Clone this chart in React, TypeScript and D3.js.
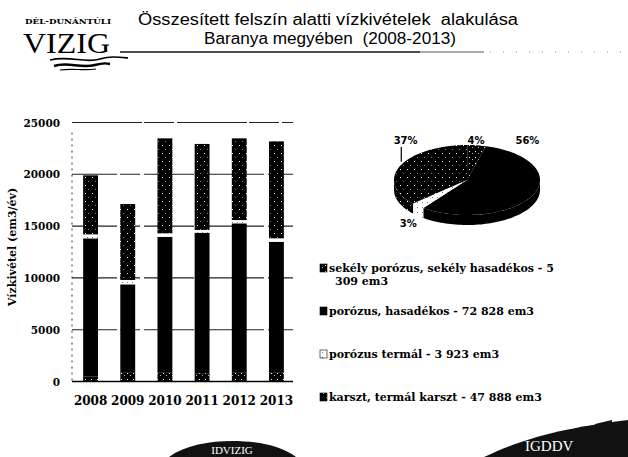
import { useMemo } from "react";
import * as d3 from "d3";

// bar chart values (em3 / year)
const YEARS = ["2008", "2009", "2010", "2011", "2012", "2013"];
const SEKELY = [500, 900, 900, 800, 900, 900];
const POROZUS = [13320, 8480, 13070, 13560, 14370, 12590];
const TERMAL = [380, 420, 330, 270, 310, 330];
const KARSZT = [5700, 7330, 9170, 8300, 7890, 9360];
const Y_TICKS = [0, 5000, 10000, 15000, 20000, 25000];

// pie / legend (2008-2013 totals)
const CATEGORIES = [
  "sekély porózus, sekély hasadékos",
  "porózus, hasadékos",
  "porózus termál",
  "karszt, termál karszt",
];
const TOTALS = [5309, 72828, 3923, 47888];
const PIE_ORDER = [1, 2, 3, 0];

const KEYS = ["sekely", "porozus", "termal", "karszt"];
const FILLS = ["url(#pSekely)", "#000", "url(#pTermal)", "url(#pKarszt)"];

const W = 628;
const H = 457;
const BAR = { left: 72, right: 295, top: 122.5, bottom: 381.5 };
const PIE = { cx: 467, cy: 180, rx: 73, ry: 35, depth: 10, start: (15 * Math.PI) / 180 };
const LEGEND = { x: 320, y0: 268, step: 43, maxChars: 36 };

const SERIF = "'DejaVu Serif', serif";

const thousands = d3.formatLocale({ decimal: ",", thousands: " ", grouping: [3], currency: ["", ""] }).format(",d");

function wrap(text: string, max: number) {
  const words = text.split(" ");
  const lines: string[] = [];
  let cur = "";
  words.forEach((w) => {
    const next = cur ? cur + " " + w : w;
    if (next.length > max && cur) {
      lines.push(cur);
      cur = w;
    } else cur = next;
  });
  if (cur) lines.push(cur);
  return lines;
}

const App = () => {
  const rows = YEARS.map((y, i) => ({
    year: y,
    sekely: SEKELY[i],
    porozus: POROZUS[i],
    termal: TERMAL[i],
    karszt: KARSZT[i],
  }));

  const xScale = useMemo(
    () => d3.scaleBand().domain(YEARS).range([BAR.left, BAR.right]).paddingInner(0.6).paddingOuter(0.3),
    []
  );
  const yScale = useMemo(() => d3.scaleLinear().domain([0, 25000]).range([BAR.bottom, BAR.top]), []);

  const stacked = d3.stack<any>().keys(KEYS)(rows);

  // 3d pie
  const total = d3.sum(TOTALS);
  const arcs = d3
    .pie<number>()
    .sort(null)
    .value((d) => TOTALS[d])
    .startAngle(PIE.start)
    .endAngle(PIE.start + 2 * Math.PI)(PIE_ORDER);

  const pt = (a: number, dy = 0): [number, number] => [
    PIE.cx + PIE.rx * Math.sin(a),
    PIE.cy - PIE.ry * Math.cos(a) + dy,
  ];
  const arcPts = (a0: number, a1: number, dy = 0) => {
    const n = Math.max(2, Math.ceil(((a1 - a0) * 180) / Math.PI / 2));
    return d3.range(n + 1).map((k) => pt(a0 + ((a1 - a0) * k) / n, dy));
  };
  const line = d3.line();
  const topPath = (a0: number, a1: number) =>
    line([[PIE.cx, PIE.cy], ...arcPts(a0, a1)]) + "Z";
  const sidePath = (a0: number, a1: number) => {
    const s = Math.max(a0, Math.PI / 2);
    const e = Math.min(a1, (3 * Math.PI) / 2);
    if (e <= s) return null;
    return line([...arcPts(s, e), ...arcPts(s, e, PIE.depth).reverse()]) + "Z";
  };
  const pct = d3.format(".0%");

  return (
    <svg width={W} height={H} style={{ position: "absolute", left: 0, top: 0, background: "#fff" }}>
      <defs>
        <pattern id="pKarszt" width="7" height="8" patternUnits="userSpaceOnUse">
          <rect width="7" height="8" fill="#000" />
          <rect x="1" y="1" width="1" height="1" fill="#fff" />
          <rect x="4" y="5" width="1" height="1" fill="#888" />
        </pattern>
        <pattern id="pSekely" width="6" height="6" patternUnits="userSpaceOnUse">
          <rect width="6" height="6" fill="#000" />
          <rect x="1" y="1" width="1" height="1" fill="#fff" />
          <rect x="4" y="3" width="1" height="1" fill="#bbb" />
        </pattern>
        <pattern id="pTermal" width="5" height="5" patternUnits="userSpaceOnUse">
          <rect width="5" height="5" fill="#fff" />
          <rect x="2" y="2" width="1" height="1" fill="#777" />
        </pattern>
        <clipPath id="page">
          <rect width={W} height={H} />
        </clipPath>
      </defs>

      {/* header / logo */}
      <text x={25} y={24} fontFamily={SERIF} fontSize={8} fontWeight="bold" textLength={86} lengthAdjust="spacingAndGlyphs">
        DÉL-DUNÁNTÚLI
      </text>
      <text x={23} y={53} fontFamily="'Liberation Serif', serif" fontSize={29} textLength={87} lengthAdjust="spacingAndGlyphs">
        VIZIG
      </text>
      <path d="M50,60 C70,55 85,64 100,59 C110,56 118,57 128,58" fill="none" stroke="#000" strokeWidth={1.6} />
      <path d="M54,66 C68,61 80,69 95,65 C102,63 106,63 110,64" fill="none" stroke="#000" strokeWidth={2.4} />
      <path d="M60,70 C72,68 84,71 96,69" fill="none" stroke="#000" strokeWidth={1.2} />

      <text x={328} y={25} textAnchor="middle" fontFamily="'Liberation Sans', Arial, sans-serif" fontSize={16}
        textLength={380} lengthAdjust="spacingAndGlyphs" style={{ whiteSpace: "pre" }}>
        {"Összesített felszín alatti vízkivételek  alakulása"}
      </text>
      <text x={330} y={44} textAnchor="middle" fontFamily="'Liberation Sans', Arial, sans-serif" fontSize={16}
        textLength={252} lengthAdjust="spacingAndGlyphs" style={{ whiteSpace: "pre" }}>
        {"Baranya megyében  (2008-2013)"}
      </text>
      <line x1={120} x2={420} y1={52} y2={52} stroke="#111" strokeWidth={1.6} />
      <line x1={420} x2={484} y1={52} y2={52} stroke="#555" strokeWidth={1} />
      <line x1={490} x2={628} y1={52} y2={52} stroke="#999" strokeWidth={1} strokeDasharray="1,12" />

      {/* bar chart */}
      {Y_TICKS.filter((t) => t > 0).map((t) => (
        <line key={t} x1={BAR.left} x2={BAR.right - 2} y1={yScale(t)} y2={yScale(t)}
          stroke="#222" strokeWidth={1.1} strokeDasharray={t === 25000 ? "70,2,30,3" : "45,3,20,4,50,2"} />
      ))}
      <line x1={BAR.left} x2={BAR.left} y1={BAR.top + 10} y2={BAR.bottom} stroke="#333" strokeDasharray="2,4" />
      {stacked.map((s, i) => (
        <g key={s.key} fill={FILLS[i]}>
          {s.map((d: any) => (
            <rect key={d.data.year} x={xScale(d.data.year)} width={xScale.bandwidth()}
              y={yScale(d[1])} height={Math.max(0, yScale(d[0]) - yScale(d[1]))} />
          ))}
        </g>
      ))}
      <line x1={BAR.left} x2={BAR.right - 2} y1={yScale(0)} y2={yScale(0)} stroke="#000" strokeWidth={1.4} />
      {Y_TICKS.map((t) => (
        <text key={t} x={60} y={yScale(t) + 4} textAnchor="end" fontFamily={SERIF} fontWeight="bold" fontSize={10.5}>
          {t}
        </text>
      ))}
      {YEARS.map((y) => (
        <text key={y} x={(xScale(y) ?? 0) + xScale.bandwidth() / 2} y={405} textAnchor="middle"
          fontFamily={SERIF} fontWeight="bold" fontSize={12}>
          {y}
        </text>
      ))}
      <text transform={`translate(16,${(BAR.top + BAR.bottom) / 2 - 5}) rotate(-90)`} textAnchor="middle"
        fontFamily={SERIF} fontWeight="bold" fontSize={11}>
        Vízkivétel (em3/év)
      </text>

      {/* pie */}
      {arcs.map((a) => {
        const d = sidePath(a.startAngle, a.endAngle);
        return d ? <path key={"s" + a.data} d={d} fill={FILLS[a.data]} /> : null;
      })}
      {arcs.map((a) => (
        <path key={"t" + a.data} d={topPath(a.startAngle, a.endAngle)} fill={FILLS[a.data]} />
      ))}
      {arcs.map((a) => {
        const m = (a.startAngle + a.endAngle) / 2;
        const frac = TOTALS[a.data] / total;
        const below = Math.cos(m) < 0 && frac < 0.05;
        const x = PIE.cx + PIE.rx * (below ? 1.2 : 0.92) * Math.sin(m);
        const y = below ? PIE.cy + PIE.ry + PIE.depth - 2 : PIE.cy - PIE.ry - 5;
        const edge = pt(m);
        const leader = !below && Math.cos(m) > 0 && edge[1] - y > 15;
        return (
          <g key={"l" + a.data}>
            {leader && <line x1={edge[0] + 1} x2={edge[0] + 1} y1={y + 7} y2={edge[1] - 4} stroke="#000" strokeWidth={1.2} />}
            <text x={x} y={y + 4} textAnchor="middle" fontFamily="'DejaVu Sans', sans-serif" fontWeight="bold" fontSize={10}>
              {pct(frac)}
            </text>
          </g>
        );
      })}

      {/* legend */}
      {CATEGORIES.map((c, i) => {
        const lines = wrap(`${c} - ${thousands(TOTALS[i])} em3`, LEGEND.maxChars);
        const y = LEGEND.y0 + i * LEGEND.step;
        return (
          <g key={c}>
            <rect x={LEGEND.x} y={y - 4} width={7} height={8} fill={FILLS[i]} stroke="#000" strokeWidth={0.6} />
            {lines.map((l, k) => (
              <text key={k} x={LEGEND.x + 9 + (k > 0 ? 6 : 0)} y={y + 4 + k * 13} fontFamily={SERIF}
                fontWeight="bold" fontSize={11}>
                {l}
              </text>
            ))}
          </g>
        );
      })}

      {/* footer stamps */}
      <g clipPath="url(#page)">
        <path d="M169,457 C185,445 210,441 232,441 C255,441 280,445 296,457 Z" fill="#111" />
        <text x={232} y={454} textAnchor="middle" fill="#fff" fontFamily="'Liberation Serif', serif" fontSize={11}>
          IDVIZIG
        </text>
        <path d="M484,457 C520,440 560,428 628,420 L628,457 Z" fill="#111" />
        <path d="M595,424 L612,420 L612,438 L604,440 Z" fill="#111" />
        <text x={525} y={451} fill="#fff" fontFamily="'Liberation Serif', serif" fontSize={15}>
          IGDDV
        </text>
      </g>
    </svg>
  );
};

export default App;
